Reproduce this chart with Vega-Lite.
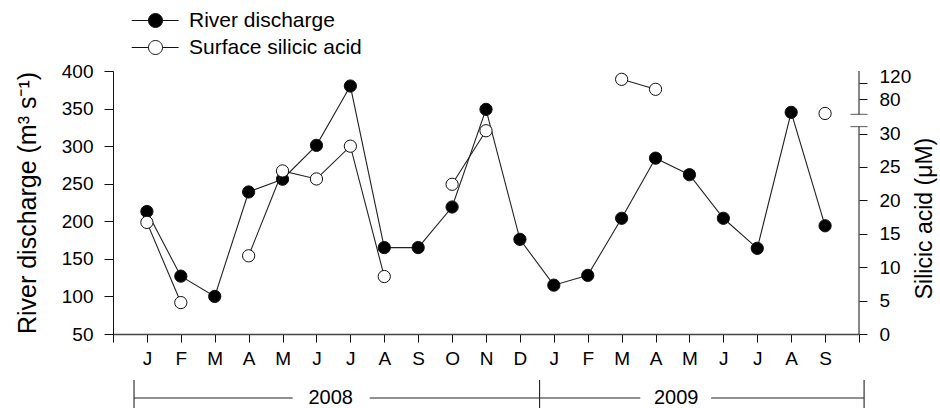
{
  "$schema": "https://vega.github.io/schema/vega-lite/v6.json",
  "width": 746,
  "height": 263,
  "autosize": {"type": "none"},
  "padding": {"left": 113, "top": 71, "right": 81, "bottom": 74},
  "background": "white",
  "config": {
    "view": {"stroke": null},
    "font": "Liberation Sans",
    "axis": {
      "grid": false,
      "labelFont": "Liberation Sans",
      "titleFont": "Liberation Sans",
      "labelFontSize": 19,
      "titleFontSize": 23,
      "titleFontWeight": "normal",
      "labelColor": "#000",
      "titleColor": "#000",
      "tickColor": "#111",
      "domainColor": "#111",
      "labelFlush": false,
      "labelOverlap": false
    }
  },
  "datasets": {
    "monthly": [
      {"m": 0, "discharge": 213, "silicic": 16.7},
      {"m": 1, "discharge": 127, "silicic": 4.7},
      {"m": 2, "discharge": 100, "silicic": null},
      {"m": 3, "discharge": 239, "silicic": 11.7},
      {"m": 4, "discharge": 256, "silicic": 24.4},
      {"m": 5, "discharge": 301, "silicic": 23.2},
      {"m": 6, "discharge": 380, "silicic": 28.1},
      {"m": 7, "discharge": 165, "silicic": 8.6},
      {"m": 8, "discharge": 165, "silicic": null},
      {"m": 9, "discharge": 219, "silicic": 22.4},
      {"m": 10, "discharge": 349, "silicic": 32},
      {"m": 11, "discharge": 176, "silicic": null},
      {"m": 12, "discharge": 115, "silicic": null},
      {"m": 13, "discharge": 128, "silicic": null},
      {"m": 14, "discharge": 204, "silicic": 128},
      {"m": 15, "discharge": 284, "silicic": 104},
      {"m": 16, "discharge": 262, "silicic": null},
      {"m": 17, "discharge": 204, "silicic": null},
      {"m": 18, "discharge": 164, "silicic": null},
      {"m": 19, "discharge": 345, "silicic": null},
      {"m": 20, "discharge": 194, "silicic": 46}
    ],
    "bracket": [
      {"m": -0.38, "m2": -0.38, "discharge": -11.2, "discharge2": -56},
      {"m": 11.58, "m2": 11.58, "discharge": -11.2, "discharge2": -56},
      {"m": 21.15, "m2": 21.15, "discharge": -11.2, "discharge2": -56},
      {"m": -0.38, "m2": 4.3, "discharge": -35.2, "discharge2": -35.2},
      {"m": 6.57, "m2": 11.58, "discharge": -35.2, "discharge2": -35.2},
      {"m": 11.58, "m2": 14.55, "discharge": -35.2, "discharge2": -35.2},
      {"m": 16.64, "m2": 21.15, "discharge": -35.2, "discharge2": -35.2}
    ],
    "years": [
      {"m": 5.42, "discharge": -35.8, "year": "2008"},
      {"m": 15.61, "discharge": -35.8, "year": "2009"}
    ],
    "rightAxis": [
      {"m": 21, "silicic": 0, "silicic2": 35},
      {"m": 21, "silicic": 44, "silicic2": 148}
    ],
    "axisBreak": [
      {"m": 21, "silicic": 35},
      {"m": 21, "silicic": 44}
    ]
  },
  "encoding": {
    "x": {
      "field": "m",
      "type": "quantitative",
      "scale": {"domain": [-1, 21], "nice": false, "zero": false},
      "axis": {
        "values": [-1, 0, 1, 2, 3, 4, 5, 6, 7, 8, 9, 10, 11, 12, 13, 14, 15, 16, 17, 18, 19, 20, 21],
        "labelExpr": "['','J','F','M','A','M','J','J','A','S','O','N','D','J','F','M','A','M','J','J','A','S',''][datum.value + 1]",
        "tickSize": 8,
        "labelPadding": 7,
        "labelAngle": 0,
        "title": null,
        "domainWidth": 1.6,
        "domainColor": "#444"
      }
    }
  },
  "layer": [
    {
      "encoding": {
        "y": {
          "field": "discharge",
          "type": "quantitative",
          "scale": {"domain": [50, 400], "nice": false, "zero": false},
          "axis": {
            "values": [50, 100, 150, 200, 250, 300, 350, 400],
            "tickSize": 9,
            "labelPadding": 11,
            "title": "River discharge (m³ s⁻¹)",
            "titleFontSize": 25,
            "titleAngle": 270,
            "titleX": -86,
            "titleBaseline": "middle"
          }
        }
      },
      "layer": [
        {
          "data": {"name": "monthly"},
          "mark": {"type": "line", "color": "#222", "strokeWidth": 1.1},
          "encoding": {}
        },
        {
          "data": {"name": "monthly"},
          "mark": {"type": "point", "shape": "circle", "filled": true, "stroke": "#111", "strokeWidth": 1, "size": 150, "opacity": 1},
          "encoding": {
            "fill": {
              "datum": "River discharge",
              "type": "nominal",
              "scale": {"domain": ["River discharge", "Surface silicic acid"], "range": ["#000000", "#ffffff"]},
              "legend": {
                "title": null,
                "orient": "none",
                "legendX": 32,
                "legendY": -61,
                "direction": "vertical",
                "symbolType": "M-3.4,0L-1,0M1,0L3.3,0M-1,0A1,1,0,1,1,1,0A1,1,0,1,1,-1,0Z",
                "symbolSize": 196,
                "symbolStrokeColor": "#111",
                "symbolStrokeWidth": 1,
                "symbolOpacity": 1,
                "labelFont": "Liberation Sans",
                "labelFontSize": 21,
                "labelColor": "#000",
                "labelOffset": 23,
                "labelLimit": 0,
                "rowPadding": 5,
                "padding": 0
              }
            }
          }
        },
        {
          "data": {"name": "bracket"},
          "mark": {"type": "rule", "color": "#222", "strokeWidth": 1.1},
          "encoding": {
            "x2": {"field": "m2"},
            "y2": {"field": "discharge2"}
          }
        },
        {
          "data": {"name": "years"},
          "mark": {"type": "text", "font": "Liberation Sans", "fontSize": 20, "color": "#000", "align": "center", "baseline": "middle"},
          "encoding": {
            "text": {"field": "year", "type": "nominal"}
          }
        }
      ]
    },
    {
      "encoding": {
        "y": {
          "field": "silicic",
          "type": "quantitative",
          "scale": {"type": "linear", "domain": [0, 30, 44, 148], "range": [263, 62.5, 43.3, 0], "nice": false, "zero": false},
          "axis": {
            "orient": "right",
            "values": [0, 5, 10, 15, 20, 25, 30, 80, 120],
            "domain": false,
            "tickSize": 8,
            "labelPadding": 12,
            "labelBaseline": {"condition": {"test": "datum.value == 120", "value": "alphabetic"}, "value": "middle"},
            "title": "Silicic acid (μM)",
            "titleAngle": 270,
            "titleX": 65,
            "titleY": 147,
            "titleBaseline": "middle"
          }
        }
      },
      "layer": [
        {
          "data": {"name": "monthly"},
          "mark": {"type": "line", "color": "#222", "strokeWidth": 1.1, "invalid": "break-paths-filter-domains"},
          "encoding": {}
        },
        {
          "data": {"name": "monthly"},
          "mark": {"type": "point", "shape": "circle", "filled": true, "stroke": "#111", "strokeWidth": 1, "size": 150, "opacity": 1, "invalid": "filter"},
          "encoding": {
            "fill": {"datum": "Surface silicic acid", "type": "nominal"}
          }
        },
        {
          "data": {"name": "rightAxis"},
          "mark": {"type": "rule", "color": "#111", "strokeWidth": 1},
          "encoding": {
            "y2": {"field": "silicic2"}
          }
        },
        {
          "data": {"name": "axisBreak"},
          "mark": {"type": "tick", "orient": "horizontal", "color": "#111", "size": 17, "thickness": 1},
          "encoding": {}
        }
      ]
    }
  ],
  "resolve": {"scale": {"y": "independent"}, "axis": {"y": "independent"}}
}
